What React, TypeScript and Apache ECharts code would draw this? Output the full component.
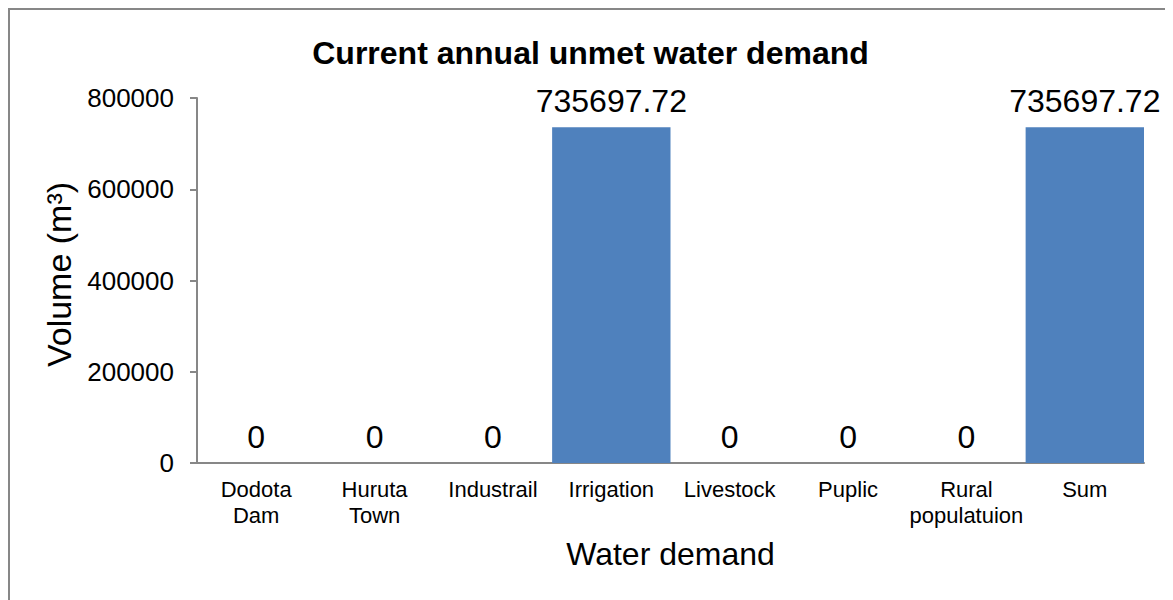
import React, { useEffect, useRef } from "react";
import * as echarts from "echarts";

const categories = [
  "Dodota\nDam",
  "Huruta\nTown",
  "Industrail",
  "Irrigation",
  "Livestock",
  "Puplic",
  "Rural\npopulatuion",
  "Sum",
];
const values = [0, 0, 0, 735697.72, 0, 0, 0, 735697.72];
const yTicks = { min: 0, max: 800000, interval: 200000 };
const titleText = "Current annual unmet water demand";
const xName = "Water demand";
const yName = "Volume (m³)";

const FONT = "'Liberation Sans', Arial, sans-serif";

export default function App() {
  const ref = useRef<HTMLDivElement>(null);
  useEffect(() => {
    if (!ref.current) return;
    const chart = echarts.init(ref.current, undefined, { renderer: "svg" });
    chart.setOption({
      animation: false,
      backgroundColor: "#ffffff",
      textStyle: { fontFamily: FONT, color: "#000" },
      title: {
        text: titleText,
        left: "center",
        top: 22,
        textStyle: { fontFamily: FONT, fontSize: 32, fontWeight: "bold", color: "#000" },
      },
      grid: { left: 187, top: 88, right: 27, bottom: 145, containLabel: false },
      xAxis: {
        type: "category",
        data: categories,
        name: xName,
        nameLocation: "middle",
        nameGap: 75,
        nameTextStyle: { fontFamily: FONT, fontSize: 32, color: "#000" },
        axisLine: { show: true, lineStyle: { color: "#878787", width: 2 } },
        axisTick: { show: false },
        axisLabel: {
          interval: 0,
          margin: 13,
          fontFamily: FONT,
          fontSize: 22,
          lineHeight: 26,
          color: "#000",
        },
      },
      yAxis: {
        type: "value",
        min: yTicks.min,
        max: yTicks.max,
        interval: yTicks.interval,
        name: yName,
        nameLocation: "middle",
        nameGap: 114,
        nameRotate: 90,
        nameTextStyle: {
          fontFamily: FONT,
          fontSize: 34,
          color: "#000",
          padding: [0, 0, 0, 12],
        },
        axisLine: { show: true, lineStyle: { color: "#878787", width: 2 } },
        axisTick: { show: true, length: 7, lineStyle: { color: "#878787", width: 2 } },
        splitLine: { show: false },
        axisLabel: {
          margin: 23,
          fontFamily: FONT,
          fontSize: 26,
          color: "#000",
          formatter: (v: number) => String(v),
        },
      },
      series: [
        {
          type: "bar",
          data: values,
          barCategoryGap: "0%",
          itemStyle: { color: "#4F81BD" },
          label: {
            show: true,
            position: "top",
            distance: 10,
            fontFamily: FONT,
            fontSize: 32,
            color: "#000",
            formatter: (p: any) => String(p.value),
          },
        },
      ],
    });
    return () => chart.dispose();
  }, []);
  return (
    <div
      style={{
        width: 1165,
        height: 602,
        border: "2px solid #878787",
        boxSizing: "border-box",
        background: "#fff",
      }}
    >
      <div ref={ref} style={{ width: 1161, height: 598 }} />
    </div>
  );
}
